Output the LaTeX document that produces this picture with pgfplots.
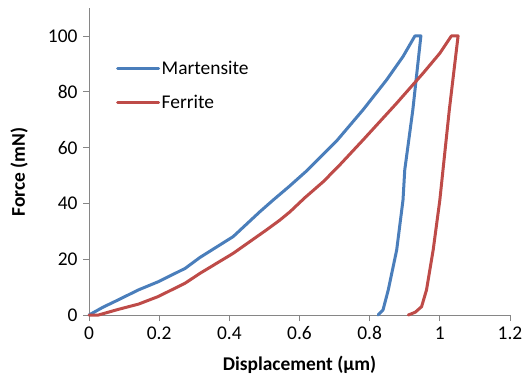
\documentclass[border=0pt]{standalone}
\usepackage{fontspec}
\setmainfont{Carlito}
\usepackage{pgfplots}
\pgfplotsset{compat=1.18}
\definecolor{mblue}{HTML}{4A7EBB}
\definecolor{fred}{HTML}{BE4B48}
\definecolor{axgray}{HTML}{868686}
\begin{document}
\begin{tikzpicture}[x=1bp,y=1bp]
\useasboundingbox (0,0) rectangle (523,385);
\begin{axis}[
  at={(89bp,70bp)}, anchor=south west,
  scale only axis, width=421bp, height=307bp,
  xmin=0, xmax=1.2, ymin=0, ymax=110,
  axis x line*=bottom, axis y line*=left,
  axis line style={axgray, line width=0.8bp},
  tick style={axgray, line width=0.8bp},
  tick align=outside, major tick length=6bp,
  xtick={0,0.2,0.4,0.6,0.8,1,1.2},
  ytick={0,20,40,60,80,100},
  /pgf/number format/assume math mode=true,
  xticklabel style={/pgf/number format/fixed, /pgf/number format/precision=1},
  tick label style={font=\fontsize{19.5}{23}\selectfont, text=black},
  xticklabel style={yshift=-2bp},
  yticklabel style={xshift=-2bp},
  xlabel={\textbf{Displacement (µm)}},
  ylabel={\textbf{Force (mN)}},
  label style={font=\fontsize{19.5}{23}\selectfont},
  xlabel style={at={(axis description cs:0.5,-0.163)}, anchor=center},
  ylabel style={at={(axis description cs:-0.166,0.466)}, anchor=center},
  legend style={draw=none, fill=none, at={(axis description cs:0.057,0.838)}, anchor=north west,
    font=\fontsize{19.5}{23}\selectfont, row sep=16bp, nodes={inner sep=1.5bp}},
  legend cell align=left,
  legend image code/.code={\draw[#1] (0bp,0bp) -- (41bp,0bp);},
  every axis plot/.append style={line width=3bp, line join=round, line cap=round},
  clip=false,
]
\addplot[mblue] coordinates {
(0,0) (0.04,2.8) (0.083,5.4) (0.141,9) (0.197,11.9) (0.274,16.7) (0.316,20.6)
(0.411,28.1) (0.487,37) (0.525,41.2) (0.57,46) (0.62,51.6) (0.706,62.4)
(0.781,73.5) (0.848,84.2) (0.895,92.6) (0.929,100) (0.946,100)
(0.923,73.5) (0.9,52) (0.895,41.2) (0.877,23.3)
(0.853,9) (0.838,1.8) (0.824,0)
};
\addlegendentry{Martensite}
\addplot[fred] coordinates {
(0,0) (0.027,0) (0.083,2) (0.141,3.9) (0.197,6.6) (0.274,11.4) (0.316,14.9)
(0.411,22.1) (0.506,30.5) (0.544,34) (0.573,37) (0.615,42) (0.668,47.8) (0.715,53.8)
(0.781,62.7) (0.877,75.9) (0.952,86.6) (1.0,93.8) (1.033,100) (1.052,100)
(1.027,73.5) (1.009,52) (1.0,41.2) (0.981,23.3)
(0.962,9) (0.948,3) (0.93,1) (0.91,0)
};
\addlegendentry{Ferrite}
\end{axis}
\end{tikzpicture}
\end{document}
